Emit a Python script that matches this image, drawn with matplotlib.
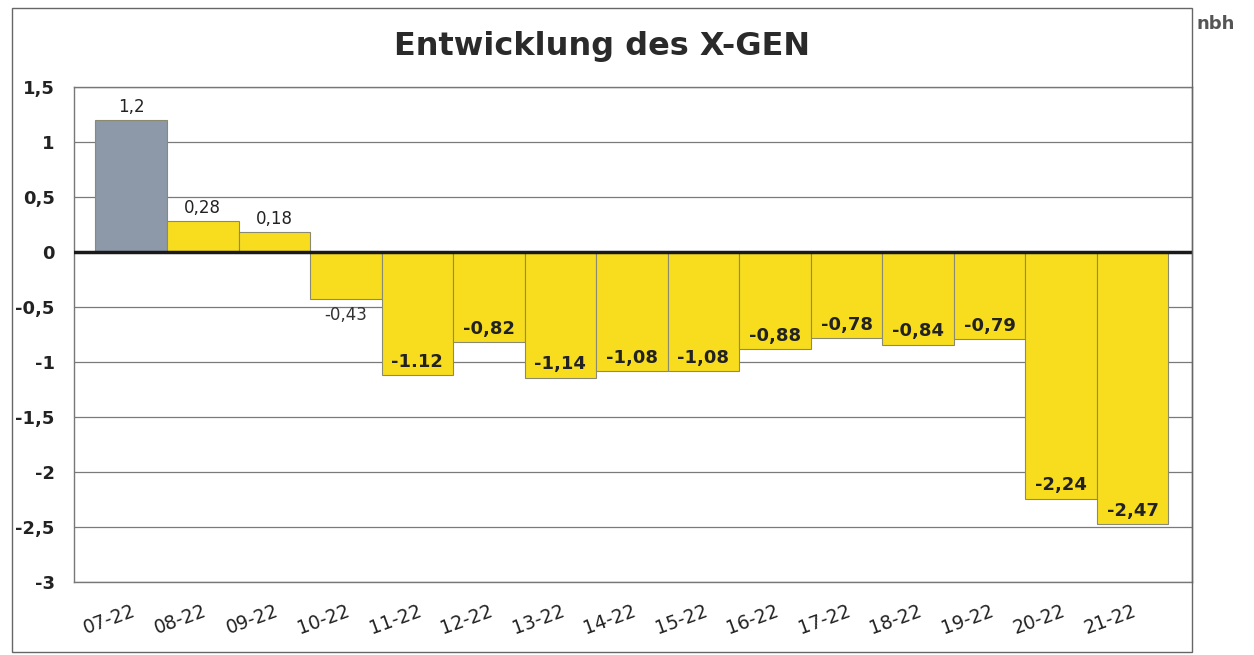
import numpy as np
import matplotlib.pyplot as plt
from matplotlib.patches import Rectangle

# data
wochen = ['07-22', '08-22', '09-22', '10-22', '11-22', '12-22', '13-22', '14-22',
          '15-22', '16-22', '17-22', '18-22', '19-22', '20-22', '21-22']
werte = [1.2, 0.28, 0.18, -0.43, -1.12, -0.82, -1.14, -1.08,
         -1.08, -0.88, -0.78, -0.84, -0.79, -2.24, -2.47]
labels = ['1,2', '0,28', '0,18', '-0,43', '-1.12', '-0,82', '-1,14', '-1,08',
          '-1,08', '-0,88', '-0,78', '-0,84', '-0,79', '-2,24', '-2,47']
yticks = [1.5, 1, 0.5, 0, -0.5, -1, -1.5, -2, -2.5, -3]
ytick_labels = ['1,5', '1', '0,5', '0', '-0,5', '-1', '-1,5', '-2', '-2,5', '-3']

grau = '#8d98a8'
gelb = '#f8dd1f'

fig = plt.figure(figsize=(12.54, 6.55), dpi=100)
ax = fig.add_axes([0.059, 0.111, 0.8916, 0.756])

x = np.arange(len(wochen))
farben = [grau] + [gelb] * (len(wochen) - 1)
ax.bar(x, werte, width=1.0, color=farben, edgecolor='#8a8a70', linewidth=0.8, zorder=2)

# value labels
for i, (v, t) in enumerate(zip(werte, labels)):
    if v > 0:
        ax.text(i, v + 0.04, t, ha='center', va='bottom', fontsize=12, color='#222222')
    elif v > -0.5:
        ax.text(i, v - 0.06, t, ha='center', va='top', fontsize=12, color='#333333')
    else:
        ax.text(i, v + 0.04, t, ha='center', va='bottom', fontsize=13,
                fontweight='bold', color='#222222', zorder=3)

ax.axhline(0, color='#1a1a1a', linewidth=2.5, zorder=3)
ax.set_ylim(-3, 1.5)
ax.set_xlim(-0.8, 14.83)
ax.set_yticks(yticks)
ax.set_yticklabels(ytick_labels, fontsize=13, fontweight='bold', color='#222222')
ax.set_xticks(x)
ax.set_xticklabels(wochen, rotation=20, fontsize=13.5, color='#222222',
                   ha='right', rotation_mode='anchor')
ax.tick_params(axis='y', length=0, pad=14)
ax.tick_params(axis='x', length=0, pad=14)
ax.grid(axis='y', color='#7a7a7a', linewidth=0.9, zorder=0)
for s in ax.spines.values():
    s.set_color('#777777')
    s.set_linewidth(1.0)

fig.text(602 / 1254, 1 - 46 / 655, 'Entwicklung des X-GEN', fontsize=23,
         fontweight='bold', color='#2a2a2a', ha='center', va='center')

# outer frame
fig.patches.append(Rectangle((12 / 1254, 3 / 655), 1180 / 1254, 644 / 655,
                             transform=fig.transFigure, fill=False,
                             edgecolor='#666666', linewidth=1.0))
fig.text(1196 / 1254, 1 - 24 / 655, 'nbh', fontsize=13, fontweight='bold',
         color='#555555', va='center', ha='left')

fig.savefig('out.png', dpi=100)
